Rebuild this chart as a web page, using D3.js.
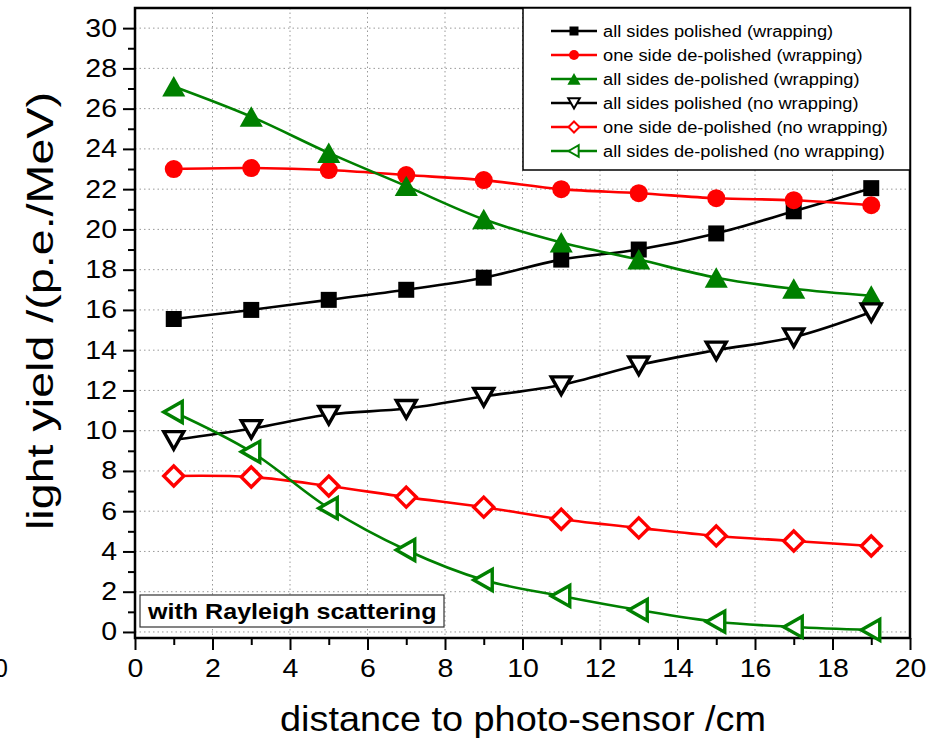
<!DOCTYPE html>
<html>
<head>
<meta charset="utf-8">
<script src="https://cdn.jsdelivr.net/npm/d3@7"></script>
<style>
  body { margin: 0; background: #fff; }
  svg { display: block; }
  text { font-family: "Liberation Sans", Arial, sans-serif; fill: #000; }
</style>
</head>
<body>
<script>
// distances (cm)
let distances = [1, 3, 5, 7, 9, 11, 13, 15, 17, 19];

// light yield (p.e./MeV)
let polishedWrap = [15.55, 16.0, 16.5, 17.0, 17.6, 18.5, 19.0, 19.8, 20.9, 22.05];
let oneSideWrap = [23.0, 23.05, 22.95, 22.7, 22.45, 22.0, 21.8, 21.55, 21.45, 21.2];
let allSidesWrap = [27.1, 25.6, 23.8, 22.15, 20.5, 19.35, 18.5, 17.6, 17.05, 16.7];
let polishedNoWrap = [9.55, 10.1, 10.8, 11.1, 11.7, 12.27, 13.26, 14.0, 14.65, 15.9];
let oneSideNoWrap = [7.75, 7.7, 7.25, 6.7, 6.2, 5.6, 5.17, 4.77, 4.52, 4.27];
let allSidesNoWrap = [10.93, 8.95, 6.15, 4.07, 2.58, 1.79, 1.09, 0.51, 0.25, 0.1];

let seriesNames = [
  "all sides polished (wrapping)",
  "one side de-polished (wrapping)",
  "all sides de-polished (wrapping)",
  "all sides polished (no wrapping)",
  "one side de-polished (no wrapping)",
  "all sides de-polished (no wrapping)"
];

let xTicks = [0, 2, 4, 6, 8, 10, 12, 14, 16, 18, 20];
let yTicks = [0, 2, 4, 6, 8, 10, 12, 14, 16, 18, 20, 22, 24, 26, 28, 30];

let series = [
  { name: seriesNames[0], values: polishedWrap, color: "#000000", shape: "square", hollow: false },
  { name: seriesNames[1], values: oneSideWrap, color: "#ff0000", shape: "circle", hollow: false },
  { name: seriesNames[2], values: allSidesWrap, color: "#008000", shape: "up", hollow: false },
  { name: seriesNames[3], values: polishedNoWrap, color: "#000000", shape: "down", hollow: true },
  { name: seriesNames[4], values: oneSideNoWrap, color: "#ff0000", shape: "diamond", hollow: true },
  { name: seriesNames[5], values: allSidesNoWrap, color: "#008000", shape: "left", hollow: true }
];

let W = 939, H = 742;
let plotLeft = 135, plotRight = 910, plotTop = 8, plotBottom = 638;
let stretch = 1.14;

let svg = d3.select("body").append("svg")
  .attr("width", W)
  .attr("height", H);

let x = d3.scaleLinear().domain([0, 20]).range([plotLeft, plotRight]);
let y = d3.scaleLinear().domain([-0.3, 31]).range([plotBottom, plotTop]);

function markerPath(shape, s) {
  // s = half size
  if (shape === "square") {
    return "M" + (-s) + "," + (-s) + "H" + s + "V" + s + "H" + (-s) + "Z";
  } else if (shape === "circle") {
    return "M" + (-s) + ",0A" + s + "," + s + " 0 1,0 " + s + ",0A" + s + "," + s + " 0 1,0 " + (-s) + ",0Z";
  } else if (shape === "up") {
    return "M0," + (-s * 1.0) + "L" + (s * 1.1) + "," + (s * 0.95) + "L" + (-s * 1.1) + "," + (s * 0.95) + "Z";
  } else if (shape === "down") {
    return "M0," + (s * 1.0) + "L" + (s * 1.05) + "," + (-s * 0.85) + "L" + (-s * 1.05) + "," + (-s * 0.85) + "Z";
  } else if (shape === "diamond") {
    return "M0," + (-s) + "L" + s + ",0L0," + s + "L" + (-s) + ",0Z";
  } else if (shape === "left") {
    return "M" + (-s) + ",0L" + (s * 0.85) + "," + (-s * 1.05) + "L" + (s * 0.85) + "," + (s * 1.05) + "Z";
  }
}

let markerSize = { square: 8, circle: 9, up: 10.5, down: 9.5, diamond: 10, left: 10 };
let legendSize = { square: 4.5, circle: 5, up: 6, down: 5.5, diamond: 5.5, left: 5.5 };

// grid
let grid = svg.append("g").attr("class", "grid");
grid.selectAll("line.gx")
  .data(xTicks)
  .enter()
  .append("line")
  .attr("x1", d => x(d)).attr("x2", d => x(d))
  .attr("y1", plotTop).attr("y2", plotBottom)
  .attr("stroke", "#999").attr("stroke-width", 1)
  .attr("stroke-dasharray", "1.5,3");
grid.selectAll("line.gy")
  .data(yTicks)
  .enter()
  .append("line")
  .attr("x1", plotLeft).attr("x2", plotRight)
  .attr("y1", d => y(d)).attr("y2", d => y(d))
  .attr("stroke", "#999").attr("stroke-width", 1)
  .attr("stroke-dasharray", "1.5,3");

// axes
let xAxis = svg.append("g")
  .attr("transform", "translate(0," + plotBottom + ")")
  .call(d3.axisBottom(x).tickValues(xTicks).tickSize(12).tickPadding(9).tickFormat(d3.format("d")));
svg.append("g")
  .attr("transform", "translate(0," + plotBottom + ")")
  .call(d3.axisBottom(x).tickValues(d3.range(1, 20, 2)).tickSize(7).tickFormat(""));
let yAxis = svg.append("g")
  .attr("transform", "translate(" + plotLeft + ",0)")
  .call(d3.axisLeft(y).tickValues(yTicks).tickSize(12).tickPadding(6).tickFormat(d3.format("d")));
svg.append("g")
  .attr("transform", "translate(" + plotLeft + ",0)")
  .call(d3.axisLeft(y).tickValues(d3.range(1, 31, 2)).tickSize(7).tickFormat(""));

svg.selectAll(".domain").remove();
svg.selectAll(".tick line").attr("stroke", "#000").attr("stroke-width", 2);
xAxis.selectAll("text").attr("font-size", 25).attr("class", "stretch")
  .attr("font-family", "Liberation Sans, Arial, sans-serif");
yAxis.selectAll("text").attr("font-size", 25).attr("class", "stretch")
  .attr("font-family", "Liberation Sans, Arial, sans-serif");

// frame
svg.append("rect")
  .attr("x", plotLeft).attr("y", plotTop)
  .attr("width", plotRight - plotLeft).attr("height", plotBottom - plotTop)
  .attr("fill", "none").attr("stroke", "#000").attr("stroke-width", 2.5);

// lines and markers
let line = d3.line()
  .x((d, i) => x(distances[i]))
  .y(d => y(d))
  .curve(d3.curveCatmullRom.alpha(0.5));

let plot = svg.append("g").attr("class", "plot");
series.forEach(function (s) {
  plot.append("path")
    .attr("d", line(s.values))
    .attr("fill", "none")
    .attr("stroke", s.color)
    .attr("stroke-width", 2.6);
});
series.forEach(function (s) {
  plot.selectAll(null)
    .data(s.values)
    .enter()
    .append("path")
    .attr("transform", (d, i) => "translate(" + x(distances[i]) + "," + y(d) + ")")
    .attr("d", markerPath(s.shape, markerSize[s.shape]))
    .attr("fill", s.hollow ? "#fff" : s.color)
    .attr("stroke", s.hollow ? s.color : "none")
    .attr("stroke-width", s.hollow ? 3.4 : 0)
    .attr("stroke-linejoin", "miter");
});

// legend
let legend = svg.append("g").attr("class", "legend");
legend.append("rect")
  .attr("x", 523).attr("y", plotTop)
  .attr("width", plotRight - 523).attr("height", 170 - plotTop)
  .attr("fill", "#fff").attr("stroke", "#000").attr("stroke-width", 1.5);
let rows = legend.selectAll("g.row")
  .data(series)
  .enter()
  .append("g")
  .attr("class", "row")
  .attr("transform", (d, i) => "translate(0," + (31 + i * 24) + ")");
rows.append("line")
  .attr("x1", 551).attr("x2", 597)
  .attr("y1", 0).attr("y2", 0)
  .attr("stroke", d => d.color).attr("stroke-width", 2.6);
rows.append("path")
  .attr("transform", "translate(574,0)")
  .attr("d", d => markerPath(d.shape, legendSize[d.shape]))
  .attr("fill", d => d.hollow ? "#fff" : d.color)
  .attr("stroke", d => d.hollow ? d.color : "none")
  .attr("stroke-width", d => d.hollow ? 2 : 0);
rows.append("text")
  .attr("class", "stretch")
  .attr("x", 603).attr("y", 0)
  .attr("dy", "0.35em")
  .attr("font-size", 16)
  .text(d => d.name);

// annotation box
svg.append("rect")
  .attr("x", 140).attr("y", 595)
  .attr("width", 304).attr("height", 32)
  .attr("fill", "#fff").attr("stroke", "#333").attr("stroke-width", 1.2);
svg.append("text")
  .attr("class", "stretch")
  .attr("x", 148).attr("y", 619)
  .attr("font-size", 22)
  .attr("font-weight", "bold")
  .text("with Rayleigh scattering");

// axis titles
svg.append("text")
  .attr("x", 523).attr("y", 731)
  .attr("text-anchor", "middle")
  .attr("font-size", 35)
  .attr("textLength", 486)
  .attr("lengthAdjust", "spacingAndGlyphs")
  .text("distance to photo-sensor /cm");
svg.append("text")
  .attr("transform", "translate(53,311) rotate(-90)")
  .attr("text-anchor", "middle")
  .attr("font-size", 36)
  .attr("textLength", 438)
  .attr("lengthAdjust", "spacingAndGlyphs")
  .text("light yield /(p.e./MeV)");

// stray clipped label at the left edge
svg.append("text")
  .attr("x", 8).attr("y", 677)
  .attr("text-anchor", "end")
  .attr("font-size", 25)
  .text("0");

// widen text a little, the original is drawn slightly wide
svg.selectAll("text.stretch").each(function () {
  let len = this.getComputedTextLength();
  d3.select(this)
    .attr("textLength", len * stretch)
    .attr("lengthAdjust", "spacingAndGlyphs");
});
</script>
</body>
</html>
